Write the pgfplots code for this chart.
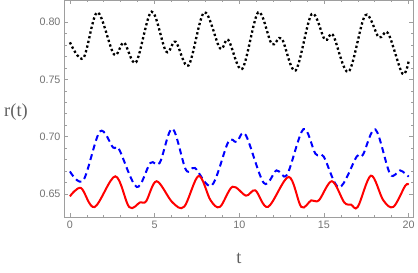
\documentclass[border=0pt]{standalone}
\usepackage{fontspec}
\setmainfont{Liberation Sans}
\newfontfamily\seriffont{Liberation Serif}
\usepackage{pgfplots}
\pgfplotsset{compat=1.18}
\definecolor{axgray}{gray}{0.62}
\definecolor{lblgray}{gray}{0.45}
\definecolor{titgray}{gray}{0.38}
\begin{document}
\begin{tikzpicture}
\path[use as bounding box] (0,0) rectangle (418bp,273bp);
\begin{axis}[
  at={(64bp,55.5bp)}, anchor=south west,
  scale only axis, width=349bp, height=217.5bp,
  xmin=-0.35, xmax=20.26, ymin=0.6293, ymax=0.8195,
  xtick={0,5,10,15,20}, minor x tick num=4,
  ytick={0.65,0.70,0.75,0.80}, minor y tick num=4,
  yticklabel style={/pgf/number format/.cd, fixed, fixed zerofill, precision=2},
  /pgf/number format/assume math mode=true,
  tick label style={font=\fontsize{10.8}{12}\selectfont, text=lblgray},
  axis line style={axgray, line width=0.8pt},
  tick style={axgray, line width=0.6pt},
  tick align=inside,
  major tick length=4bp, minor tick length=2.5bp,
  clip=true,
]
\addplot[black, line width=2.3bp, dash pattern=on 2.3bp off 2.5bp, smooth, tension=0.55] coordinates {
(0,0.7825) (0.79,0.7686) (1.62,0.8087) (2.6,0.772) (3.19,0.7822) (3.9,0.765)
(4.82,0.8093) (5.68,0.7745) (6.24,0.783) (7.0,0.7622) (7.93,0.8087) (8.86,0.7773)
(9.35,0.7846) (10.17,0.7592) (11.12,0.8087) (11.92,0.781) (12.5,0.786) (13.32,0.7578)
(14.28,0.8072) (15.06,0.7846) (15.53,0.789) (16.45,0.7567) (17.44,0.8061) (18.24,0.7869)
(18.79,0.7904) (19.63,0.7552) (20,0.7656)
};
\addplot[blue, line width=2bp, dash pattern=on 6bp off 4bp, smooth, tension=0.55] coordinates {
(0,0.6696) (0.79,0.6618) (1.77,0.7045) (2.55,0.6905) (2.9,0.689) (3.94,0.656)
(4.75,0.677) (5.3,0.677) (6.05,0.707) (6.85,0.671) (7.38,0.6726) (8.37,0.6572)
(9.35,0.6953) (9.84,0.6953) (10.37,0.7017) (11.45,0.6595) (12.2,0.6705) (12.82,0.6667)
(13.79,0.7066) (14.5,0.685) (14.98,0.6827) (15.9,0.6556) (16.94,0.6827) (17.3,0.684)
(18.04,0.7063) (18.91,0.6673) (19.5,0.6705) (20,0.665)
};
\addplot[red, line width=2bp, smooth, tension=0.55] coordinates {
(0,0.6478) (0.65,0.6551) (1.45,0.6384) (2.68,0.6653) (3.5,0.6384) (4.15,0.6426)
(4.5,0.6435) (5.12,0.661) (6.05,0.6426) (6.75,0.6388) (7.6,0.6656) (8.3,0.6445)
(8.86,0.6386) (9.6,0.6562) (10.4,0.6484) (10.95,0.653) (11.7,0.6386) (12.92,0.6648)
(13.66,0.6386) (14.25,0.6443) (14.7,0.6443) (15.47,0.661) (16.2,0.6425) (16.6,0.6406)
(17.0,0.6386) (17.78,0.6659) (18.5,0.6445) (19.1,0.6386) (19.8,0.657) (20,0.658)
};
\end{axis}
\node[text=titgray, font=\seriffont\fontsize{18.5}{20}\selectfont] at (16bp,161bp) {r(t)};
\node[text=titgray, font=\seriffont\fontsize{18.5}{20}\selectfont] at (239bp,15bp) {t};
\end{tikzpicture}
\end{document}
